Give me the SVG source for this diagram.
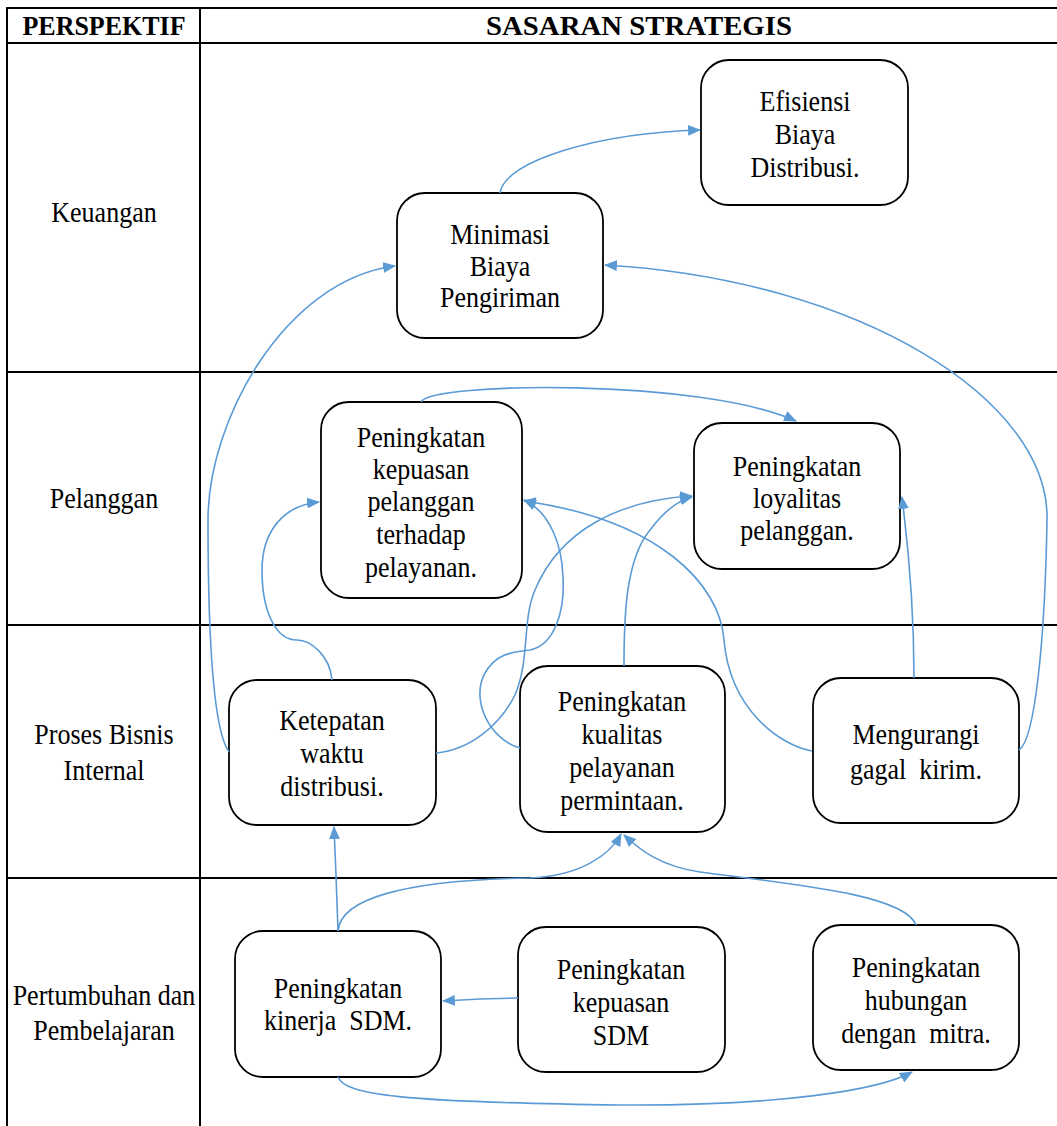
<svg xmlns="http://www.w3.org/2000/svg" width="1057" height="1126" viewBox="0 0 1057 1126">
<defs>
<marker id="arr" viewBox="0 0 12 10" refX="11" refY="5" markerWidth="13" markerHeight="11" markerUnits="userSpaceOnUse" orient="auto">
<path d="M0,0 L12,5 L0,10 Z" fill="#5B9BD5"/>
</marker>
<style>
.grid{stroke:#000;stroke-width:2;fill:none}
.box{fill:#fff;stroke:#000;stroke-width:1.8}
.c{fill:none;stroke:#5B9BD5;stroke-width:1.6;marker-end:url(#arr)}
</style>
</defs>
<rect width="1057" height="1126" fill="#fff"/>
<g font-family="Liberation Serif, Times New Roman, serif" font-size="26" text-anchor="middle" fill="#000">
<g id="table">
<line class="grid" x1="7" y1="8" x2="1057" y2="8"/>
<line class="grid" x1="7" y1="43" x2="1057" y2="43"/>
<line class="grid" x1="7" y1="372" x2="1057" y2="372"/>
<line class="grid" x1="7" y1="625" x2="1057" y2="625"/>
<line class="grid" x1="7" y1="878" x2="1057" y2="878"/>
<line class="grid" x1="7" y1="7" x2="7" y2="1126"/>
<line class="grid" x1="200" y1="7" x2="200" y2="1126"/>
<text font-weight="bold" transform="translate(104,35) scale(1,1.08)">PERSPEKTIF</text>
<text font-weight="bold" transform="translate(639,35) scale(1,1.08)" textLength="306" lengthAdjust="spacingAndGlyphs">SASARAN STRATEGIS</text>
<text transform="translate(104,222) scale(1,1.1)">Keuangan</text>
<text transform="translate(104,508) scale(1,1.1)">Pelanggan</text>
<text transform="translate(104,744) scale(1,1.1)">Proses Bisnis</text>
<text transform="translate(104,780) scale(1,1.1)">Internal</text>
<text transform="translate(104,1005) scale(1,1.1)">Pertumbuhan dan</text>
<text transform="translate(104,1040) scale(1,1.1)">Pembelajaran</text>
</g>
<g id="node-efisiensi">
<rect class="box" x="701" y="60" width="207" height="145" rx="28"/>
<text transform="translate(805,111) scale(1,1.1)">Efisiensi</text>
<text transform="translate(805,144) scale(1,1.1)">Biaya</text>
<text transform="translate(805,177) scale(1,1.1)">Distribusi.</text>
</g>
<g id="node-minimasi">
<rect class="box" x="397" y="193" width="206" height="145" rx="28"/>
<text transform="translate(500,244) scale(1,1.1)">Minimasi</text>
<text transform="translate(500,276) scale(1,1.1)">Biaya</text>
<text transform="translate(500,307) scale(1,1.1)">Pengiriman</text>
</g>
<g id="node-kepuasan-pelanggan">
<rect class="box" x="321" y="402" width="201" height="196" rx="28"/>
<text transform="translate(421,447) scale(1,1.1)">Peningkatan</text>
<text transform="translate(421,479) scale(1,1.1)">kepuasan</text>
<text transform="translate(421,511) scale(1,1.1)">pelanggan</text>
<text transform="translate(421,544) scale(1,1.1)">terhadap</text>
<text transform="translate(421,577) scale(1,1.1)">pelayanan.</text>
</g>
<g id="node-loyalitas">
<rect class="box" x="694" y="423" width="206" height="146" rx="28"/>
<text transform="translate(797,476) scale(1,1.1)">Peningkatan</text>
<text transform="translate(797,508) scale(1,1.1)">loyalitas</text>
<text transform="translate(797,540) scale(1,1.1)">pelanggan.</text>
</g>
<g id="node-ketepatan">
<rect class="box" x="229" y="680" width="207" height="145" rx="28"/>
<text transform="translate(332,730) scale(1,1.1)">Ketepatan</text>
<text transform="translate(332,763) scale(1,1.1)">waktu</text>
<text transform="translate(332,796) scale(1,1.1)">distribusi.</text>
</g>
<g id="node-kualitas">
<rect class="box" x="520" y="666" width="205" height="166" rx="28"/>
<text transform="translate(622,711) scale(1,1.1)">Peningkatan</text>
<text transform="translate(622,744) scale(1,1.1)">kualitas</text>
<text transform="translate(622,777) scale(1,1.1)">pelayanan</text>
<text transform="translate(622,810) scale(1,1.1)">permintaan.</text>
</g>
<g id="node-mengurangi">
<rect class="box" x="813" y="678" width="206" height="145" rx="28"/>
<text transform="translate(916,744) scale(1,1.1)">Mengurangi</text>
<text transform="translate(916,779) scale(1,1.1)" xml:space="preserve">gagal  kirim.</text>
</g>
<g id="node-kinerja">
<rect class="box" x="235" y="931" width="206" height="146" rx="28"/>
<text transform="translate(338,998) scale(1,1.1)">Peningkatan</text>
<text transform="translate(338,1030) scale(1,1.1)" xml:space="preserve">kinerja  SDM.</text>
</g>
<g id="node-kepuasan-sdm">
<rect class="box" x="518" y="927" width="207" height="145" rx="28"/>
<text transform="translate(621,979) scale(1,1.1)">Peningkatan</text>
<text transform="translate(621,1012) scale(1,1.1)">kepuasan</text>
<text transform="translate(621,1045) scale(1,1.1)">SDM</text>
</g>
<g id="node-hubungan">
<rect class="box" x="813" y="925" width="206" height="145" rx="28"/>
<text transform="translate(916,977) scale(1,1.1)">Peningkatan</text>
<text transform="translate(916,1010) scale(1,1.1)">hubungan</text>
<text transform="translate(916,1043) scale(1,1.1)" xml:space="preserve">dengan  mitra.</text>
</g>
</g>
<g id="connectors">
<path class="c" d="M500,193 C505,160 600,133 700,130"/>
<path class="c" d="M229,752 C213,730 208,640 208,520 C208,420 285,280 395,266"/>
<path class="c" d="M1019,750 C1035,740 1045,640 1047,520 C1050,400 860,280 605,265"/>
<path class="c" d="M421,402 C430,382 700,378 796,421"/>
<path class="c" d="M332,680 C330,655 310,640 297,640 C275,640 262,610 262,570 C262,530 285,505 319,502"/>
<path class="c" d="M520,748 C490,740 470,700 485,673 C497,652 515,652 530,650 C555,645 565,610 563,577 C562,545 550,512 524,500"/>
<path class="c" d="M436,753 C470,750 500,725 515,695 C530,660 522,620 535,590 C560,530 620,500 692,496"/>
<path class="c" d="M624,666 C624,620 625,560 650,530 C665,510 680,500 692,497"/>
<path class="c" d="M812,751 C780,745 730,710 724,640 C720,585 660,520 524,501"/>
<path class="c" d="M914,678 C914,620 910,560 902,497"/>
<path class="c" d="M338,931 L336,875 L334,827"/>
<path class="c" d="M338,931 C340,900 400,880 530,878 C580,876 610,855 621,834"/>
<path class="c" d="M916,925 C905,895 800,885 700,872 C660,866 640,850 624,835"/>
<path class="c" d="M518,998 L480,999 L443,1001"/>
<path class="c" d="M338,1077 C345,1095 400,1102 620,1105 C780,1106 880,1090 912,1072"/>
</g>
</svg>
